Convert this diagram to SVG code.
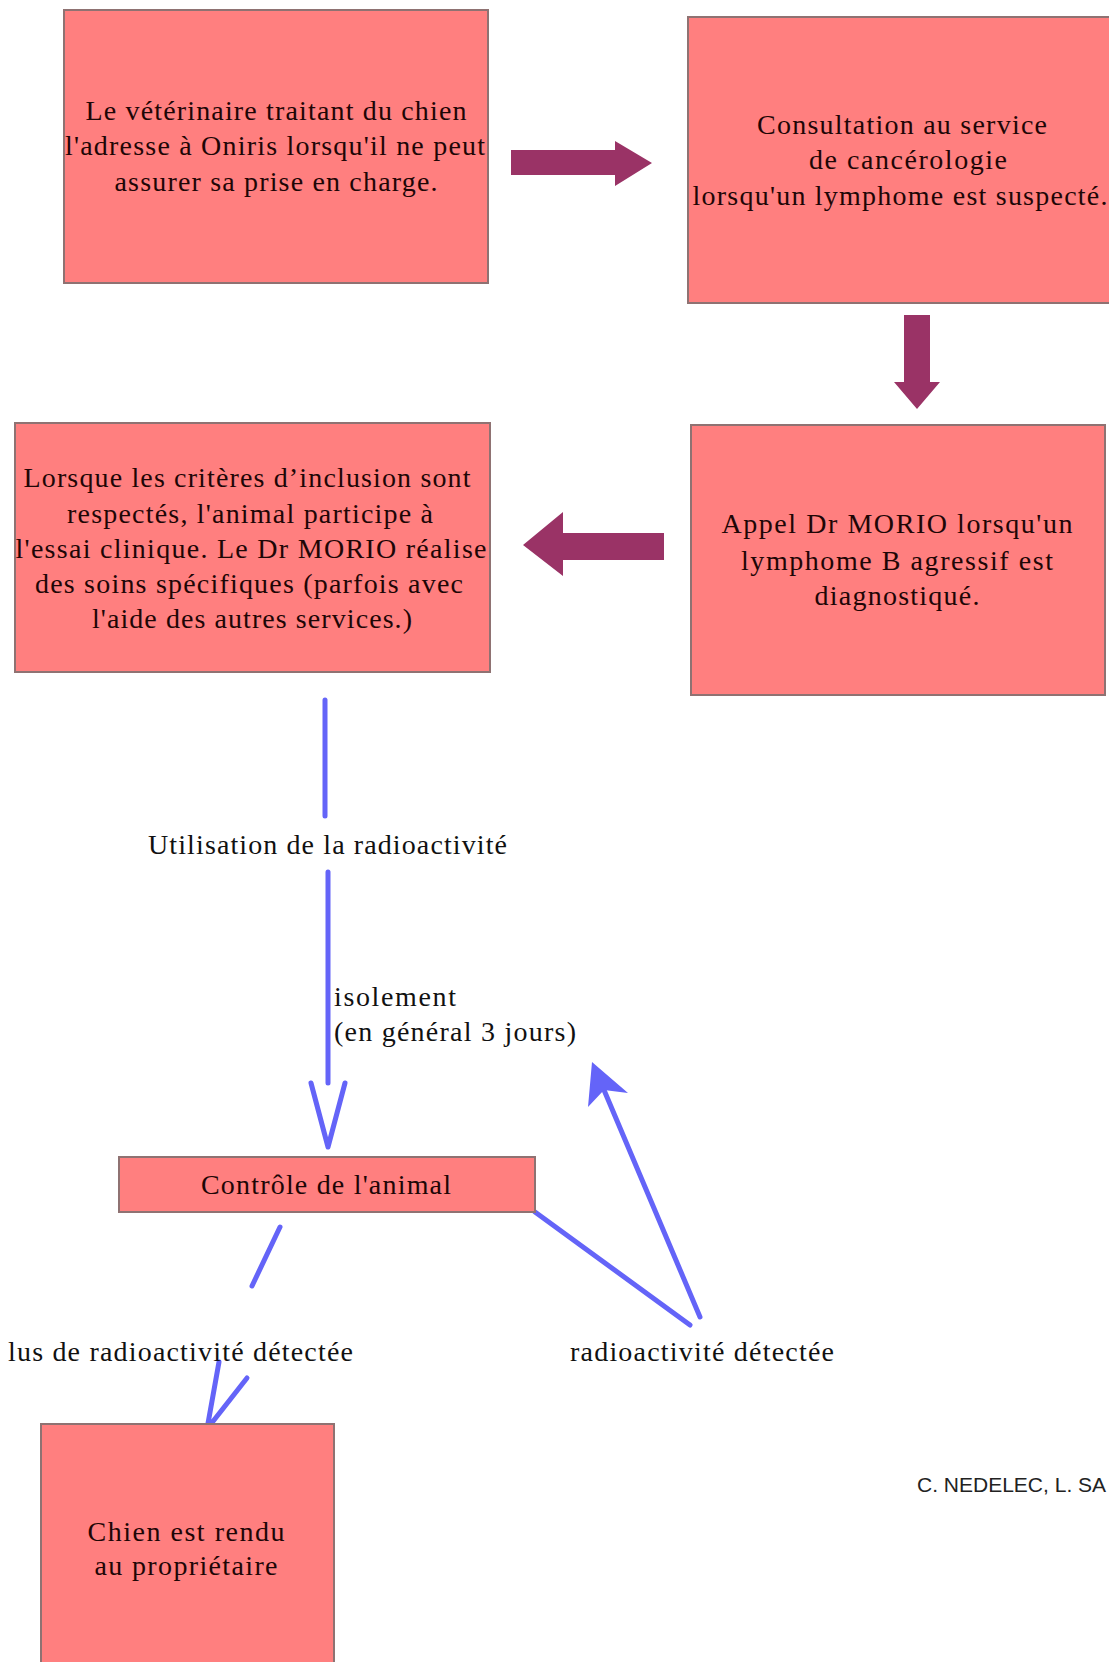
<svg xmlns="http://www.w3.org/2000/svg" width="1109" height="1662" viewBox="0 0 1109 1662">
<style>
.box{fill:#ff7f7f;stroke:#8f7272;stroke-width:2}
.t{font-family:"Liberation Serif","Times New Roman",serif;font-size:28px;fill:#1e0606;text-anchor:middle}
.l{font-family:"Liberation Serif","Times New Roman",serif;font-size:28px;fill:#111;}
.blk{fill:#9a3366}
.bl{stroke:#6464f8;stroke-width:5;fill:none;stroke-linecap:round;stroke-linejoin:round}
.cr{font-family:"Liberation Sans",Arial,sans-serif;font-size:21px;fill:#222}
</style>
<rect width="1109" height="1662" fill="#ffffff"/>
<g id="connectors">
  <polygon class="blk" points="511,150 615,150 615,141 652,163 615,186 615,175 511,175"/>
  <polygon class="blk" points="904,315 930,315 930,382 940,382 917,409 894,382 904,382"/>
  <polygon class="blk" points="664,533 664,560 563,560 563,576 523,545 563,512 563,533"/>
  <line class="bl" x1="325" y1="700" x2="325" y2="816"/>
  <line class="bl" x1="328" y1="872" x2="328" y2="1083"/>
  <polyline class="bl" points="311,1083 328,1147 345,1083"/>
  <line class="bl" x1="280" y1="1227" x2="252" y2="1286"/>
  <polyline class="bl" points="219,1362 207,1429 247,1378"/>
  <line class="bl" x1="535" y1="1212" x2="690" y2="1325"/>
  <line class="bl" x1="700" y1="1317" x2="604" y2="1090"/>
  <polygon fill="#6464f8" points="592,1062 628,1093 604,1090 588,1107"/>
</g>
<g id="n1">
  <rect class="box" x="64" y="10" width="424" height="273"/>
  <text class="t" x="276" y="120" textLength="381">Le vétérinaire traitant du chien</text>
  <text class="t" x="275" y="155" textLength="420">l'adresse à Oniris lorsqu'il ne peut</text>
  <text class="t" x="276" y="191" textLength="323">assurer sa prise en charge.</text>
</g>
<g id="n2">
  <rect class="box" x="688" y="17" width="430" height="286"/>
  <text class="t" x="902" y="134" textLength="290">Consultation au service</text>
  <text class="t" x="908" y="169" textLength="198">de cancérologie</text>
  <text class="t" x="900" y="205" textLength="415">lorsqu'un lymphome est suspecté.</text>
</g>
<g id="n3">
  <rect class="box" x="691" y="425" width="414" height="270"/>
  <text class="t" x="897" y="533" textLength="351">Appel Dr MORIO lorsqu'un</text>
  <text class="t" x="897" y="570" textLength="312">lymphome B agressif est</text>
  <text class="t" x="897" y="605" textLength="165">diagnostiqué.</text>
</g>
<g id="n4">
  <rect class="box" x="15" y="423" width="475" height="249"/>
  <text class="t" x="247" y="487" textLength="447">Lorsque les critères d’inclusion sont</text>
  <text class="t" x="250" y="523" textLength="366">respectés, l'animal participe à</text>
  <text class="t" x="251" y="558" textLength="471">l'essai clinique. Le Dr MORIO réalise</text>
  <text class="t" x="249" y="593" textLength="428">des soins spécifiques (parfois avec</text>
  <text class="t" x="252" y="628" textLength="320">l'aide des autres services.)</text>
</g>
<g id="lab-util">
  <text class="l" x="148" y="854" textLength="359">Utilisation de la radioactivité</text>
</g>
<g id="lab-iso">
  <text class="l" x="334" y="1006" textLength="122">isolement</text>
  <text class="l" x="334" y="1041" textLength="242">(en général 3 jours)</text>
</g>
<g id="n5">
  <rect class="box" x="119" y="1157" width="416" height="55"/>
  <text class="t" x="326" y="1194" textLength="250">Contrôle de l'animal</text>
</g>
<g id="lab-plus">
  <text class="l" x="8" y="1361" textLength="345">lus de radioactivité détectée</text>
</g>
<g id="lab-radio">
  <text class="l" x="570" y="1361" textLength="264">radioactivité détectée</text>
</g>
<g id="n6">
  <rect class="box" x="41" y="1424" width="293" height="250"/>
  <text class="t" x="186" y="1541" textLength="197">Chien est rendu</text>
  <text class="t" x="186" y="1575" textLength="183">au propriétaire</text>
</g>
<g id="credit">
  <text class="cr" x="917" y="1492">C. NEDELEC, L. SA</text>
</g>
</svg>
